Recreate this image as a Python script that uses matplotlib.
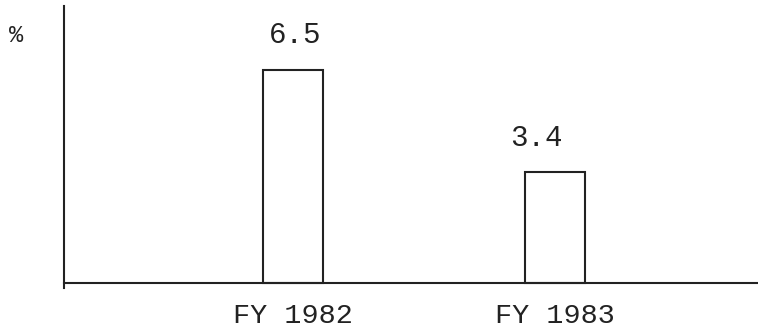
import numpy as np
import matplotlib
matplotlib.use("Agg")
import matplotlib.pyplot as plt

# values
years = ["FY 1982", "FY 1983"]
pct = [6.5, 3.4]
value_labels = ["6.5", "3.4"]

plt.rcParams['font.family'] = ['Liberation Mono', 'DejaVu Sans Mono']
ink = '#222222'

fig = plt.figure(figsize=(7.58, 3.31), dpi=100)
ax = fig.add_axes([64 / 758, 1 - 288 / 331, (757 - 64) / 758, (288 - 6) / 331])

x = np.arange(len(years))
ax.bar(x, pct, width=0.229, facecolor='white', edgecolor=ink, linewidth=1.5)

# value labels above bars (the second one sits a bit left in the original)
offsets = [(2, 35), (-18, 34)]
for xi, v, lab, off in zip(x, pct, value_labels, offsets):
    ax.annotate(lab, (xi, v), xytext=(off[0] * 0.72, off[1] * 0.72),
                textcoords='offset points', ha='center', va='center',
                fontsize=21, color=ink)

ax.set_xlim(-0.876, 1.774)
ax.set_ylim(-0.15, 8.45)

ax.spines['top'].set_visible(False)
ax.spines['right'].set_visible(False)
ax.spines['bottom'].set_position(('data', 0))
for s in ('left', 'bottom'):
    ax.spines[s].set_color(ink)
    ax.spines[s].set_linewidth(1.5)

ax.set_xticks(x)
ax.set_xticklabels(years, fontsize=20.5, color=ink)
ax.tick_params(axis='x', length=0, pad=14)
ax.set_yticks([])

fig.text(16 / 758, 1 - 36 / 331, '%', fontsize=17, color=ink, ha='center', va='center')

fig.savefig('out.png', dpi=100)
